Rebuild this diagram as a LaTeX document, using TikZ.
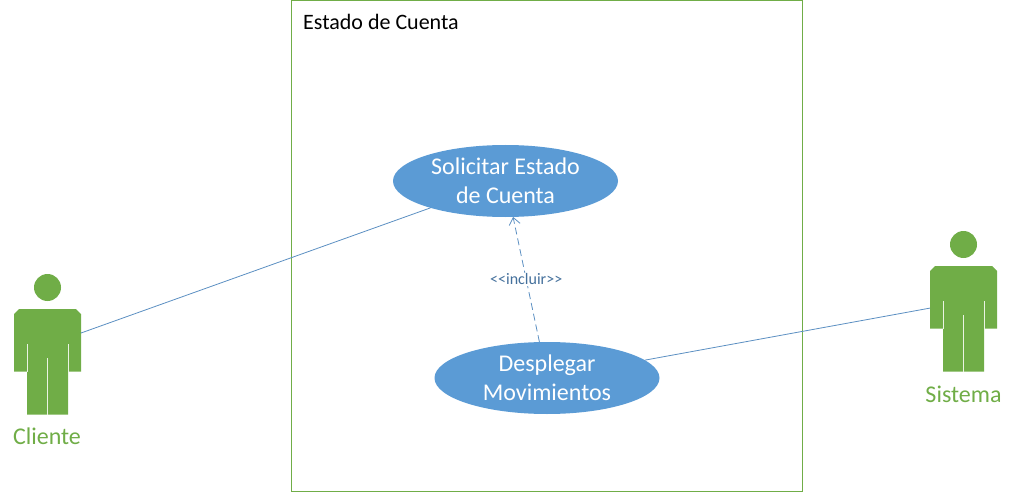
\documentclass[tikz,border=0pt]{standalone}
\usepackage{fontspec}
\setmainfont{Carlito}
\usetikzlibrary{arrows.meta,shapes.geometric}

\definecolor{actorgreen}{HTML}{70AD47}
\definecolor{caseblue}{HTML}{5B9BD5}
\definecolor{lineblue}{HTML}{5B8FC2}
\definecolor{labelblue}{HTML}{44709C}

\begin{document}
\begin{tikzpicture}[
    x=1pt,
    y=-1pt,
    usecase/.style={
        ellipse,
        fill=caseblue,
        minimum width=225pt,
        minimum height=72pt,
        inner sep=0pt,
        outer sep=0pt,
        text=white,
        font=\fontsize{24}{29}\selectfont,
        align=center
    },
    actor/.style={
        rectangle,
        minimum width=67pt,
        minimum height=140pt,
        inner sep=0pt,
        outer sep=0pt
    },
    actorname/.style={
        text=actorgreen,
        font=\fontsize{24}{28}\selectfont
    },
    assoc/.style={
        lineblue,
        line width=0.8pt
    },
    figure/.pic={
        \fill[actorgreen] (0,-57.5) circle (13.5);
        \fill[actorgreen] (-28.5,-36) -- (28.5,-36) -- (33.5,-31) -- (33.5,26.5)
            -- (20.5,26.5) -- (20.5,69.5) -- (-20.5,69.5) -- (-20.5,26.5)
            -- (-33.5,26.5) -- (-33.5,-31) -- cycle;
        % slits between arms and legs
        \draw[white!85!actorgreen,line width=0.8pt] (-20.5,-1) -- (-20.5,26.5);
        \draw[white!85!actorgreen,line width=0.8pt] (20.5,-1) -- (20.5,26.5);
        \draw[white!85!actorgreen,line width=0.8pt] (0,13) -- (0,69.5);
    }
]
\useasboundingbox (0,0) rectangle (1015,492);

% System boundary
\node[draw=actorgreen,line width=1pt,minimum width=511pt,minimum height=490pt,inner sep=0pt,outer sep=0pt] (estado) at (546.5,246) {};
\node[anchor=west,inner sep=0pt,font=\fontsize{22}{26}\selectfont] (titulo) at (303,22) {Estado de Cuenta};

% Use cases
\node[usecase] (solicitar) at (505.5,181) {Solicitar Estado\\de Cuenta};
\node[usecase] (desplegar) at (547,378) {Desplegar\\Movimientos};

% Actors
\node[actor] (cliente) at (47.5,345) {};
\node[actor] (sistema) at (963.5,302) {};
\pic at (cliente.center) {figure};
\pic at (sistema.center) {figure};
\node[actorname] (nombrecliente) at (47,436) {Cliente};
\node[actorname] (nombresistema) at (963.5,394) {Sistema};

% Associations
\draw[assoc] (cliente) -- (solicitar);
\draw[assoc] (sistema) -- (desplegar);

% Include
\draw[assoc,dashed,dash pattern=on 7pt off 4pt,-{Straight Barb[length=7pt,width=11pt]}] (desplegar) -- (solicitar)
    node[pos=0.5,fill=white,inner sep=1pt,text=labelblue,font=\fontsize{16}{18}\selectfont] (incluir) {<{}<incluir>{}>};

\end{tikzpicture}
\end{document}
